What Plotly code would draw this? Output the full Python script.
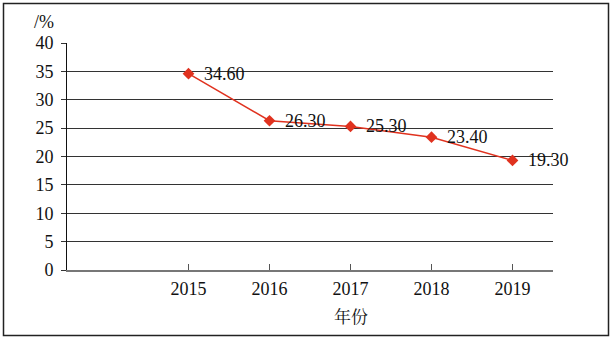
import plotly.graph_objects as go

# Data
years = [2015, 2016, 2017, 2018, 2019]
values = [34.60, 26.30, 25.30, 23.40, 19.30]
y_ticks = [0, 5, 10, 15, 20, 25, 30, 35, 40]

W, H = 613, 342
L, R, T, B = 67, 60, 43, 72
pw, ph = W - L - R, H - T - B

def px_x(x):
    return (x - L) / pw

def px_y(y):
    return (H - B - y) / ph

serif = "Liberation Serif"
red = "#e0321f"

fig = go.Figure()
fig.add_trace(go.Scatter(
    x=years, y=values,
    mode="lines+markers",
    line=dict(color=red, width=1.5),
    marker=dict(symbol="diamond", size=9, color=red),
    showlegend=False,
))

# value labels to the right of each marker
annotations = [dict(
    x=x, y=v, xref="x", yref="y", text=f"{v:.2f}",
    showarrow=False, xanchor="left", yanchor="middle", xshift=13,
    font=dict(family=serif, size=18, color="#111"),
) for x, v in zip(years, values)]

annotations.append(dict(
    text="/%", x=px_x(44), y=px_y(22), xref="paper", yref="paper",
    showarrow=False, xanchor="center", yanchor="middle",
    font=dict(family=serif, size=18, color="#111"),
))
annotations.append(dict(
    text="年份", x=2017, y=px_y(315), xref="x", yref="paper",
    showarrow=False, xanchor="center", yanchor="middle",
    font=dict(family="Noto Serif CJK SC, Noto Sans CJK SC", size=17, color="#111"),
))

fig.update_layout(
    width=W, height=H,
    margin=dict(l=L, r=R, t=T, b=B),
    paper_bgcolor="white", plot_bgcolor="white",
    font=dict(family=serif, size=18, color="#111"),
    xaxis=dict(
        range=[2013.5, 2019.5],
        tickvals=years, ticktext=[str(y) for y in years],
        ticks="inside", ticklen=6, tickcolor="#555", tickwidth=1,
        showgrid=False, zeroline=False,
        showline=True, linecolor="#777", linewidth=1.5,
        tickfont=dict(family=serif, size=18, color="#111"),
        ticklabelstandoff=2,
    ),
    yaxis=dict(
        range=[0, 40],
        tickvals=y_ticks,
        ticks="outside", ticklen=5, tickcolor="#333", tickwidth=1,
        showgrid=True, gridcolor="#333", gridwidth=1,
        zeroline=False,
        showline=True, linecolor="#111", linewidth=1,
        tickfont=dict(family=serif, size=18, color="#111"),
        ticklabelstandoff=4,
    ),
    annotations=annotations,
    shapes=[dict(
        type="rect", xref="paper", yref="paper",
        x0=px_x(3.5), x1=px_x(608.5), y0=px_y(335.5), y1=px_y(3.5),
        line=dict(color="#222", width=1.5), fillcolor="rgba(0,0,0,0)",
        layer="below",
    )],
)

fig.write_html("out.html")
